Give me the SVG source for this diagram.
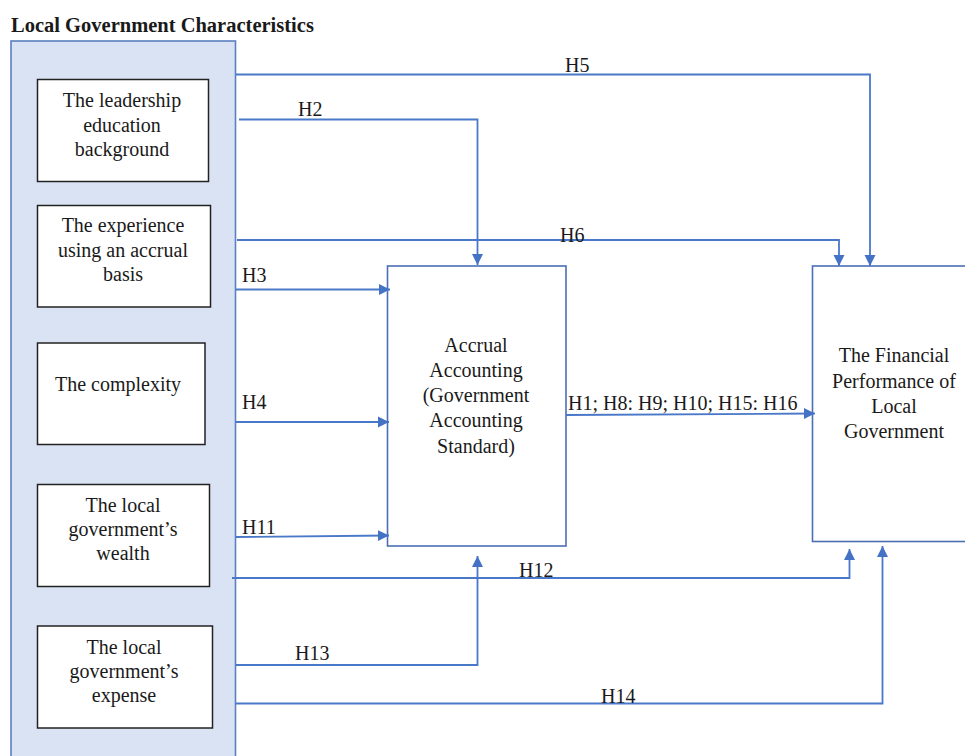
<svg xmlns="http://www.w3.org/2000/svg" width="965" height="756" viewBox="0 0 965 756">
<style>
text{font-family:'Liberation Serif','DejaVu Serif','Times New Roman',serif;font-size:20px;fill:#1a1a1a}
.title{font-weight:bold;font-size:20.5px}
.c{text-anchor:middle}
.node{fill:#ffffff;stroke:#222222;stroke-width:1.5}
.big{fill:#ffffff;stroke:#4a6fb5;stroke-width:1.6}
.panel{fill:#dae3f3;stroke:#5b7fc0;stroke-width:1.6}
.conn{fill:none;stroke:#4a78c9;stroke-width:1.8}
.lbl{font-size:20px}
</style>
<defs>
<marker id="arr" markerWidth="12" markerHeight="12" refX="11" refY="6" orient="auto" markerUnits="userSpaceOnUse">
<path d="M0,0.5 L11,6 L0,11.5 z" fill="#4472c4"/>
</marker>
</defs>
<rect width="965" height="756" fill="#ffffff"/>
<text class="title" x="11" y="32">Local Government Characteristics</text>
<g id="panel">
<rect class="panel" x="11" y="41" width="224.5" height="730"/>
</g>
<g id="n-leadership">
<rect class="node" x="37.5" y="79.5" width="171" height="102"/>
<text class="c" x="122" y="107">The leadership</text>
<text class="c" x="122" y="132">education</text>
<text class="c" x="122" y="156">background</text>
</g>
<g id="n-experience">
<rect class="node" x="37.5" y="205.5" width="173" height="101.5"/>
<text class="c" x="123" y="232">The experience</text>
<text class="c" x="123" y="257">using an accrual</text>
<text class="c" x="123" y="281">basis</text>
</g>
<g id="n-complexity">
<rect class="node" x="37.5" y="343" width="167.5" height="101.5"/>
<text class="c" x="118" y="391">The complexity</text>
</g>
<g id="n-wealth">
<rect class="node" x="37.5" y="484.5" width="172" height="102"/>
<text class="c" x="123" y="512">The local</text>
<text class="c" x="123" y="536">government’s</text>
<text class="c" x="123" y="560">wealth</text>
</g>
<g id="n-expense">
<rect class="node" x="37.5" y="626" width="175" height="102"/>
<text class="c" x="124" y="654">The local</text>
<text class="c" x="124" y="678">government’s</text>
<text class="c" x="124" y="702">expense</text>
</g>
<g id="n-accrual">
<rect class="big" x="387.5" y="266" width="178.5" height="280"/>
<text class="c" x="476" y="352">Accrual</text>
<text class="c" x="476" y="377">Accounting</text>
<text class="c" x="476" y="402">(Government</text>
<text class="c" x="476" y="427">Accounting</text>
<text class="c" x="476" y="453">Standard)</text>
</g>
<g id="n-financial">
<rect class="big" x="812.5" y="266" width="170" height="275.5"/>
<text class="c" x="894" y="362">The Financial</text>
<text class="c" x="894" y="388">Performance of</text>
<text class="c" x="894" y="413">Local</text>
<text class="c" x="894" y="438">Government</text>
</g>
<g id="connectors">
<path class="conn" d="M236 74.5 H870 V266" marker-end="url(#arr)"/>
<path class="conn" d="M239 119.5 H477.5 V265" marker-end="url(#arr)"/>
<path class="conn" d="M237 240 H839 V266" marker-end="url(#arr)"/>
<path class="conn" d="M236 289.5 H390" marker-end="url(#arr)"/>
<path class="conn" d="M236 422 H389" marker-end="url(#arr)"/>
<path class="conn" d="M236 537 L389 535.5" marker-end="url(#arr)"/>
<path class="conn" d="M566 415 L815 413.5" marker-end="url(#arr)"/>
<path class="conn" d="M232 578 H849.5 V549" marker-end="url(#arr)"/>
<path class="conn" d="M236 665 H477.5 V556" marker-end="url(#arr)"/>
<path class="conn" d="M236 703.5 H882.5 V546" marker-end="url(#arr)"/>
</g>
<g id="labels">
<text class="lbl" x="565" y="72">H5</text>
<text class="lbl" x="298" y="116">H2</text>
<text class="lbl" x="560" y="242">H6</text>
<text class="lbl" x="242" y="282">H3</text>
<text class="lbl" x="242" y="409">H4</text>
<text class="lbl" x="242" y="534">H11</text>
<text class="lbl" x="568" y="410">H1; H8: H9; H10; H15: H16</text>
<text class="lbl" x="519" y="577">H12</text>
<text class="lbl" x="295" y="660">H13</text>
<text class="lbl" x="601" y="703">H14</text>
</g>
</svg>
